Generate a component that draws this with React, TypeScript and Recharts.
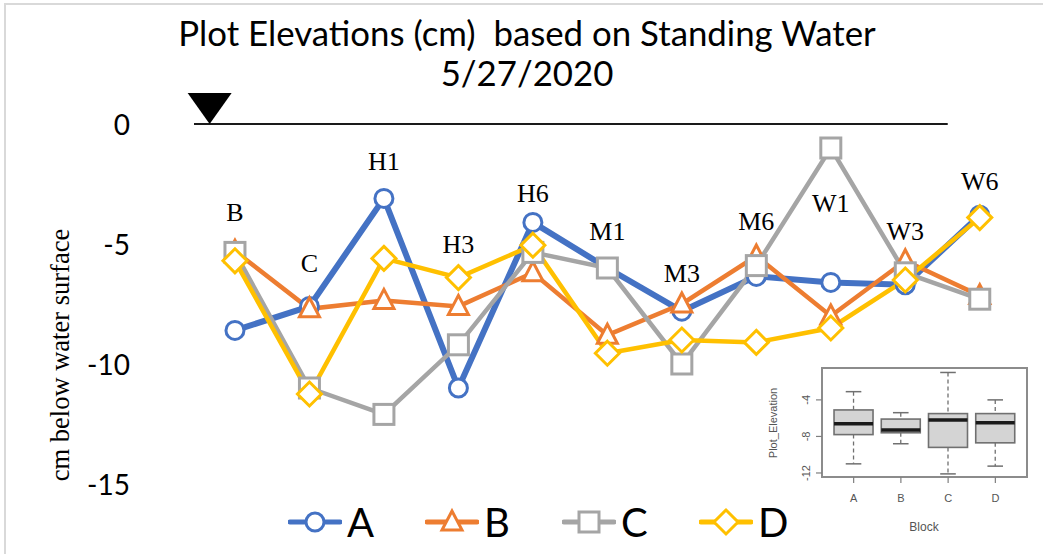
import React from "react";
import {
  ComposedChart,
  Line,
  Bar,
  XAxis,
  YAxis,
  ReferenceLine,
  ReferenceDot,
  ReferenceArea,
  LabelList,
} from "recharts";

// main chart data
const plots = ["B", "C", "H1", "H3", "H6", "M1", "M3", "M6", "W1", "W3", "W6"];
const seriesA = [-8.6, -7.6, -3.1, -11.0, -4.1, -6.0, -7.8, -6.35, -6.6, -6.7, -3.8];
const seriesB = [-5.3, -7.7, -7.35, -7.6, -6.2, -8.8, -7.5, -5.5, -8.0, -5.7, -7.15];
const seriesC = [-5.35, -11.0, -12.1, -9.2, -5.35, -6.0, -10.0, -5.9, -1.0, -6.2, -7.3];
const seriesD = [-5.7, -11.25, -5.6, -6.4, -5.05, -9.55, -9.0, -9.1, -8.5, -6.5, -3.9];
// where each plot name sits (cm)
const labelLevels = [-3.67, -5.8, -1.58, -5.04, -2.89, -4.49, -6.22, -4.08, -3.33, -4.49, -2.4];
const yTicks = [0, -5, -10, -15];

// inset boxplot data (by block)
const blocks = ["A", "B", "C", "D"];
const boxMin = [-11.0, -8.8, -12.1, -11.25];
const boxQ1 = [-7.8, -7.6, -9.2, -8.7];
const boxMedian = [-6.6, -7.3, -6.2, -6.5];
const boxQ3 = [-5.1, -6.1, -5.5, -5.5];
const boxMax = [-3.1, -5.4, -1.0, -4.0];
const insetTicks = [-2, -4, -6, -8, -10, -12];

const COLORS = { A: "#4472C4", B: "#ED7D31", C: "#A5A5A5", D: "#FFC000" };
const SANS = "Lato, 'Noto Sans', sans-serif";
const SERIF = "'Liberation Serif', 'DejaVu Serif', serif";
const SMALL = "'Liberation Sans', Arial, sans-serif";

const data = plots.map((name, i) => ({
  idx: i,
  name,
  A: seriesA[i],
  B: seriesB[i],
  C: seriesC[i],
  D: seriesD[i],
  lbl: labelLevels[i],
}));

const boxData = blocks.map((b, i) => ({
  pos: i + 1,
  block: b,
  min: boxMin[i],
  q1: boxQ1[i],
  median: boxMedian[i],
  q3: boxQ3[i],
  max: boxMax[i],
}));

type Shape = "circle" | "triangle" | "square" | "diamond";

function marker(shape: Shape, cx: number, cy: number, color: string, key?: any) {
  const common = { fill: "#fff", stroke: color, strokeWidth: 3, key };
  if (shape === "circle") return <circle cx={cx} cy={cy} r={9} {...common} />;
  if (shape === "triangle")
    return (
      <polygon
        points={`${cx},${cy - 11} ${cx - 10},${cy + 8} ${cx + 10},${cy + 8}`}
        {...common}
      />
    );
  if (shape === "square")
    return <rect x={cx - 10} y={cy - 10} width={20} height={20} {...common} />;
  return (
    <polygon
      points={`${cx},${cy - 12} ${cx + 12},${cy} ${cx},${cy + 12} ${cx - 12},${cy}`}
      {...common}
    />
  );
}

const dotFor = (shape: Shape, color: string) => (props: any) => {
  const { cx, cy, index } = props;
  if (cx == null || cy == null) return <g key={index} />;
  return marker(shape, cx, cy, color, index);
};

const series: { key: "A" | "B" | "C" | "D"; shape: Shape; width: number }[] = [
  { key: "A", shape: "circle", width: 6 },
  { key: "B", shape: "triangle", width: 4.5 },
  { key: "C", shape: "square", width: 4.5 },
  { key: "D", shape: "diamond", width: 4.5 },
];

const MainTick = (props: any) => {
  const { x, y, payload } = props;
  return (
    <text
      x={x - 56}
      y={y}
      textAnchor="end"
      dominantBaseline="central"
      fontFamily={SANS}
      fontSize={28}
      fill="#000"
    >
      {payload.value}
    </text>
  );
};

const WaterMark = (props: any) => {
  const { cx, cy } = props;
  return (
    <polygon points={`${cx - 22},${cy - 31} ${cx + 22},${cy - 31} ${cx},${cy}`} fill="#000" />
  );
};

const BoxShape = (props: any) => {
  const { x, y, width, height, payload } = props;
  const top = Math.min(y, y + height);
  const span = Math.abs(height);
  const range = payload.max - payload.min;
  const py = (v: number) => top + ((payload.max - v) / range) * span;
  const cx = x + width / 2;
  const cap = width * 0.4;
  const grey = "#707070";
  return (
    <g>
      <line x1={cx} x2={cx} y1={py(payload.max)} y2={py(payload.q3)} stroke={grey} strokeWidth={1.3} strokeDasharray="4 3" />
      <line x1={cx} x2={cx} y1={py(payload.q1)} y2={py(payload.min)} stroke={grey} strokeWidth={1.3} strokeDasharray="4 3" />
      <line x1={cx - cap / 2} x2={cx + cap / 2} y1={py(payload.max)} y2={py(payload.max)} stroke={grey} strokeWidth={1.5} />
      <line x1={cx - cap / 2} x2={cx + cap / 2} y1={py(payload.min)} y2={py(payload.min)} stroke={grey} strokeWidth={1.5} />
      <rect
        x={x}
        y={py(payload.q3)}
        width={width}
        height={py(payload.q1) - py(payload.q3)}
        fill="#d4d4d4"
        stroke={grey}
        strokeWidth={1.6}
      />
      <line x1={x} x2={x + width} y1={py(payload.median)} y2={py(payload.median)} stroke="#1a1a1a" strokeWidth={3.5} />
    </g>
  );
};

const InsetYTick = (props: any) => {
  const { x, y, payload } = props;
  const v = payload.value;
  const show = v === -4 || v === -8 || v === -12;
  return (
    <g>
      <line x1={x + 2} x2={x + 8} y1={y} y2={y} stroke="#7f7f7f" strokeWidth={1.2} />
      {show && (
        <text
          x={x - 8}
          y={y}
          transform={`rotate(-90 ${x - 8} ${y})`}
          textAnchor="middle"
          dominantBaseline="central"
          fontFamily={SMALL}
          fontSize={11}
          fill="#555"
        >
          {v}
        </text>
      )}
    </g>
  );
};

const InsetXTick = (props: any) => {
  const { x, y, payload } = props;
  return (
    <g>
      <line x1={x} x2={x} y1={y - 8} y2={y - 2} stroke="#7f7f7f" strokeWidth={1.2} />
      <text
        x={x}
        y={y + 13}
        textAnchor="middle"
        dominantBaseline="central"
        fontFamily={SMALL}
        fontSize={11}
        fill="#555"
      >
        {blocks[payload.value - 1]}
      </text>
    </g>
  );
};

function LegendRow() {
  return (
    <div
      style={{
        position: "absolute",
        left: 288,
        top: 500,
        height: 44,
        display: "flex",
        alignItems: "center",
        zIndex: 2,
      }}
    >
      {series.map((s) => (
        <div key={s.key} style={{ width: 137, display: "flex", alignItems: "center" }}>
          <svg width={54} height={30}>
            <line x1={2} x2={52} y1={15} y2={15} stroke={COLORS[s.key]} strokeWidth={5} strokeLinecap="round" />
            {marker(s.shape, 27, 15, COLORS[s.key])}
          </svg>
          <span
            style={{
              fontFamily: SANS,
              fontSize: 40,
              lineHeight: "44px",
              marginLeft: 5,
              color: "#000",
            }}
          >
            {s.key}
          </span>
        </div>
      ))}
    </div>
  );
}

export default function App() {
  return (
    <div
      style={{
        position: "fixed",
        left: 0,
        top: 0,
        width: 1043,
        height: 554,
        background: "#fff",
        overflow: "hidden",
      }}
    >
      <div
        style={{
          position: "absolute",
          left: 4,
          top: 3,
          width: 1060,
          height: 570,
          borderTop: "2px solid #d9d9d9",
          borderLeft: "2px solid #d9d9d9",
        }}
      />
      <div
        style={{
          position: "absolute",
          left: 0,
          top: 13,
          width: 1054,
          textAlign: "center",
          fontFamily: SANS,
          fontSize: 34.8,
          lineHeight: "40px",
          color: "#000",
          whiteSpace: "pre",
        }}
      >
        {"Plot Elevations (cm)  based on Standing Water\n5/27/2020"}
      </div>

      <div style={{ position: "absolute", left: 0, top: 0 }}>
        <ComposedChart
          width={1043}
          height={554}
          data={data}
          margin={{ top: 124, right: 26, bottom: 70, left: 0 }}
        >
          <XAxis type="number" dataKey="idx" domain={[-0.55, 10.5]} hide />
          <YAxis
            type="number"
            domain={[-15, 0]}
            ticks={yTicks}
            width={194}
            axisLine={false}
            tickLine={false}
            tick={<MainTick />}
            label={{
              content: () => (
                <text
                  x={60}
                  y={355}
                  transform="rotate(-90 60 355)"
                  textAnchor="middle"
                  dominantBaseline="central"
                  fontFamily={SERIF}
                  fontSize={26.5}
                  fill="#000"
                >
                  cm below water surface
                </text>
              ),
            }}
          />
          <ReferenceLine
            segment={[
              { x: -0.55, y: 0 },
              { x: 9.57, y: 0 },
            ]}
            stroke="#1a1a1a"
            strokeWidth={2}
          />
          <ReferenceDot x={-0.34} y={0} shape={<WaterMark />} />
          {series.map((s) => (
            <Line
              key={s.key}
              dataKey={s.key}
              stroke={COLORS[s.key]}
              strokeWidth={s.width}
              dot={dotFor(s.shape, COLORS[s.key])}
              activeDot={false}
              isAnimationActive={false}
            />
          ))}
          <Line
            dataKey="lbl"
            stroke="none"
            dot={false}
            activeDot={false}
            isAnimationActive={false}
          >
            <LabelList
              dataKey="name"
              content={(p: any) => (
                <text
                  x={p.x}
                  y={p.y}
                  textAnchor="middle"
                  dominantBaseline="central"
                  fontFamily={SERIF}
                  fontSize={26}
                  fill="#000"
                >
                  {p.value}
                </text>
              )}
            />
          </Line>
        </ComposedChart>
      </div>

      <div style={{ position: "absolute", left: 760, top: 360, zIndex: 1 }}>
        <ComposedChart
          width={280}
          height={190}
          data={boxData}
          margin={{ top: 8, right: 13, bottom: 33, left: 0 }}
        >
          <XAxis
            type="number"
            dataKey="pos"
            domain={[0.33, 4.67]}
            ticks={[1, 2, 3, 4]}
            axisLine={false}
            tickLine={false}
            tick={<InsetXTick />}
            height={40}
            label={{
              content: () => (
                <text
                  x={164}
                  y={167}
                  textAnchor="middle"
                  dominantBaseline="central"
                  fontFamily={SMALL}
                  fontSize={12}
                  fill="#555"
                >
                  Block
                </text>
              ),
            }}
          />
          <YAxis
            type="number"
            domain={[-12.44, -0.51]}
            ticks={insetTicks}
            width={62}
            axisLine={false}
            tickLine={false}
            tick={<InsetYTick />}
            label={{
              content: () => (
                <text
                  x={13}
                  y={63}
                  transform="rotate(-90 13 63)"
                  textAnchor="middle"
                  dominantBaseline="central"
                  fontFamily={SMALL}
                  fontSize={11}
                  fill="#555"
                >
                  Plot_Elevation
                </text>
              ),
            }}
          />
          <ReferenceArea
            x1={0.33}
            x2={4.67}
            y1={-12.44}
            y2={-0.51}
            fill="#fff"
            fillOpacity={1}
            stroke="#8c8c8c"
            strokeWidth={2}
          />
          <Bar
            dataKey={(d: any) => [d.min, d.max]}
            barSize={39}
            shape={<BoxShape />}
            isAnimationActive={false}
          />
        </ComposedChart>
      </div>

      <LegendRow />
    </div>
  );
}
